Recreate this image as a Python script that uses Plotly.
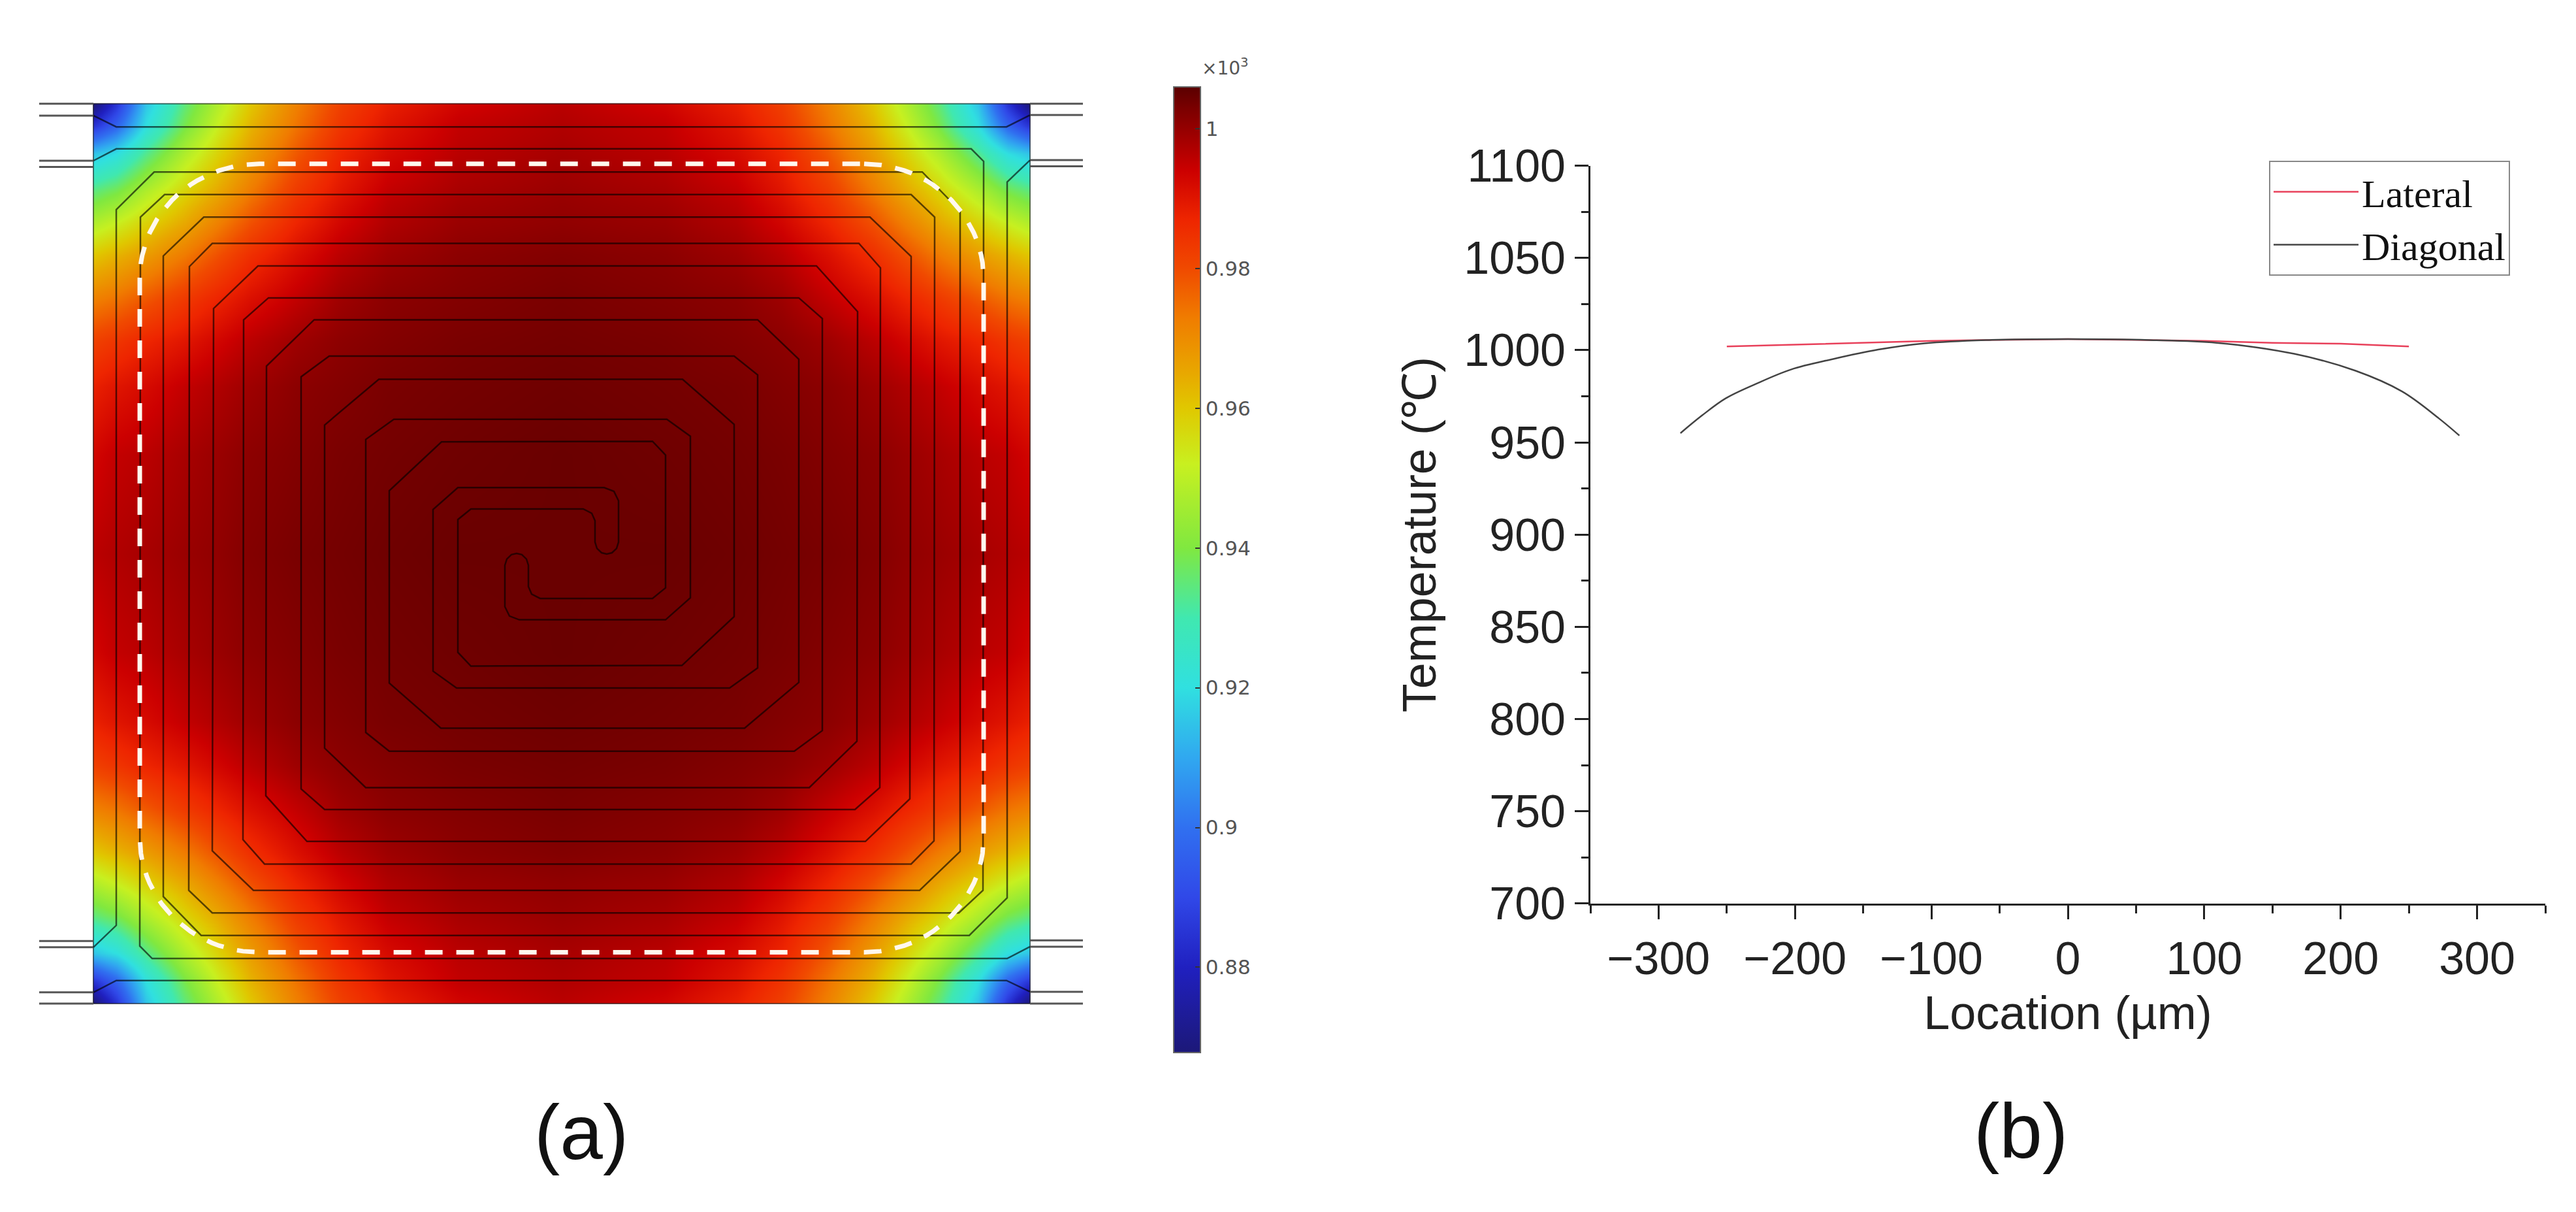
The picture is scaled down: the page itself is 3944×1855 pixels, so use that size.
import numpy as np
import plotly.graph_objects as go

# ---------- panel (b) data ----------
lateral_x = [-250, -200, -150, -100, -50, 0, 50, 100, 150, 200, 250]
lateral_t = [1002, 1003, 1004, 1005, 1005.6, 1006, 1005.6, 1005, 1004, 1003.5, 1002]
diagonal_x = [-284, -268, -251, -229, -203, -172, -139, -105, -60, 0, 60, 109, 166, 211, 245, 272, 287]
diagonal_t = [955, 964.7, 973.8, 981.6, 989.5, 995.2, 1000.3, 1003.7, 1005.5, 1006, 1005.5, 1004, 998, 988.8, 977.6, 963, 953.7]
x_ticks = [-300, -200, -100, 0, 100, 200, 300]
y_ticks = [700, 750, 800, 850, 900, 950, 1000, 1050, 1100]

# ---------- panel (a) data: temperature (x10^3 degC) on one quarter of the plate ----------
edge_offset = [0, 35, 80, 140, 190, 240, 310, 380, 450, 560, 717]
quarter_t = [
    [.868, .885, .915, .935, .948, .960, .972, .982, .988, .993, .996],
    [.885, .897, .920, .939, .952, .963, .974, .984, .990, .995, .997],
    [.915, .920, .933, .948, .958, .967, .978, .987, .992, .996, .998],
    [.935, .939, .948, .958, .965, .973, .983, .990, .995, .998, .9995],
    [.948, .952, .958, .965, .972, .979, .987, .993, .997, .9995, 1.0005],
    [.960, .963, .967, .973, .979, .985, .991, .996, .999, 1.001, 1.002],
    [.972, .974, .978, .983, .987, .991, .995, .999, 1.001, 1.002, 1.003],
    [.982, .984, .987, .990, .993, .996, .999, 1.001, 1.002, 1.003, 1.0035],
    [.988, .990, .992, .995, .997, .999, 1.001, 1.002, 1.003, 1.0035, 1.004],
    [.993, .995, .996, .998, .9995, 1.001, 1.002, 1.003, 1.0035, 1.004, 1.0045],
    [.996, .997, .998, .9995, 1.0005, 1.002, 1.003, 1.0035, 1.004, 1.0045, 1.0045],
]
cbar_ticks = [0.88, 0.90, 0.92, 0.94, 0.96, 0.98, 1.0]
cbar_labels = ["0.88", "0.9", "0.92", "0.94", "0.96", "0.98", "1"]
t_min, t_max = 0.8678, 1.006
cmap_t = [0.8678, 0.88, 0.89, 0.90, 0.91, 0.92, 0.93, 0.94, 0.952, 0.96, 0.965, 0.973, 0.98, 0.987, 0.994, 1.0, 1.003, 1.006]
cmap_c = ["#1c1878", "#2020c0", "#3048e8", "#3070f0", "#30a8f0", "#30e0e0", "#40e8b0", "#80e840",
          "#c8f020", "#e0c800", "#e8a800", "#f07c00", "#f04a00", "#ee2500", "#cc0000", "#950000", "#7a0000", "#5a0000"]

# coil wire centre-line on the plate; second wire is the same one turned half a turn
wire_x = [143, 178, 1487, 1506, 1505, 1468, 325, 289, 290, 325, 1315, 1348, 1347, 1309, 497, 461, 461, 504,
          1124, 1160, 1160, 1117, 699, 663, 663, 701, 925, 940, 947, 947, 944, 937, 929, 921, 914, 911, 911, 906, 893,
          721, 701, 701, 721, 1044, 1124, 1124, 1045, 580, 497, 497, 560, 1239, 1312, 1313, 1250, 395, 327, 325, 388,
          1408, 1470, 1470, 1412, 236, 178, 178, 143]
wire_y = [217, 198, 198, 218, 1382, 1418, 1418, 1382, 386, 349, 349, 388, 1218, 1253, 1253, 1220, 562, 529,
          529, 559, 1027, 1059, 1059, 1032, 774, 739, 739, 745, 760, 826, 836, 843, 845, 843, 836, 826, 792, 780, 773,
          773, 790, 1002, 1024, 1023, 945, 638, 566, 566, 639, 1155, 1218, 1218, 1144, 458, 385, 385, 453, 1319, 1382,
          1382, 1320, 297, 235, 235, 295, 1438, 1473]
top_wire_x = [143, 178, 1541, 1577]
top_wire_y = [145, 163, 163, 144]
bottom_wire_x = [143, 178, 1541, 1577]
bottom_wire_y = [1545, 1526, 1526, 1544]
lead_left_y = [126, 145, 217, 227, 1463, 1473, 1545, 1563]
lead_right_y = [126, 144, 216, 226, 1462, 1472, 1544, 1563]
plate_left, plate_right, plate_top, plate_bottom = 143, 1577, 126, 1563
hot_left, hot_right, hot_top, hot_bottom, hot_radius = 214, 1506, 222, 1481, 183

# ---------- build field ----------
q = np.array(quarter_t)
idx = [0] + list(range(len(edge_offset)))
q2 = q[np.ix_(idx, idx)]
d = np.array([0, 1] + edge_offset[1:], dtype=float)
half = (plate_right - plate_left) / 2
half_y = (plate_bottom - plate_top) / 2
dx = np.concatenate([d, 2 * half - d[-2::-1]])
dy = np.concatenate([d * half_y / half, 2 * half_y - (d * half_y / half)[-2::-1]])
full = np.vstack([q2, q2[-2::-1]])
full = np.hstack([full, full[:, -2::-1]])

colorscale = [[(t - t_min) / (t_max - t_min), c] for t, c in zip(cmap_t, cmap_c)]

fig = go.Figure()
fig.add_trace(go.Heatmap(
    x=plate_left + dx, y=plate_top + dy, z=full, zsmooth="best", zmin=t_min, zmax=t_max,
    colorscale=colorscale, hoverinfo="skip", xaxis="x", yaxis="y", showlegend=False,
    colorbar=dict(
        thicknessmode="pixels", thickness=41, lenmode="pixels", len=1478,
        x=1797 / 3944, xanchor="left", y=1 - 99 / 1855, yanchor="top", xpad=0, ypad=0,
        outlinewidth=2, outlinecolor="#666", tickmode="array", tickvals=cbar_ticks, ticktext=cbar_labels,
        ticks="inside", ticklen=9, tickwidth=2, tickcolor="#333",
        tickfont=dict(family="DejaVu Sans", size=31, color="#555"),
    ),
))


def line(x, y, color, width, dash=None):
    fig.add_trace(go.Scatter(x=x, y=y, mode="lines", line=dict(color=color, width=width, dash=dash),
                             hoverinfo="skip", showlegend=False, xaxis="x", yaxis="y"))


# plate outline
line([plate_left, plate_right, plate_right, plate_left, plate_left],
     [plate_top, plate_top, plate_bottom, plate_bottom, plate_top], "rgba(30,30,30,0.6)", 2)
# contact leads
lx, ly = [], []
for y in lead_left_y:
    lx += [60, plate_left, None]
    ly += [y, y, None]
for y in lead_right_y:
    lx += [plate_right, 1658, None]
    ly += [y, y, None]
line(lx, ly, "#555555", 3)
# coil
wx, wy = np.array(wire_x, float), np.array(wire_y, float)
wire_col = "rgba(0,0,0,0.62)"
line(wx, wy, wire_col, 2.5)
line(plate_left + plate_right - wx, plate_top + plate_bottom - wy, wire_col, 2.5)
line(top_wire_x, top_wire_y, wire_col, 2.5)
line(bottom_wire_x, bottom_wire_y, wire_col, 2.5)

# dashed hot-zone outline
ang = np.linspace(0, np.pi / 2, 24)
r = hot_radius
hx = np.concatenate([hot_right - r + r * np.sin(ang), hot_right - r + r * np.cos(ang),
                     hot_left + r - r * np.sin(ang), hot_left + r - r * np.cos(ang)])
hy = np.concatenate([hot_top + r - r * np.cos(ang), hot_bottom - r + r * np.sin(ang),
                     hot_bottom - r + r * np.cos(ang), hot_top + r - r * np.sin(ang)])
hx = np.append(hx, hx[0])
hy = np.append(hy, hy[0])
line(hx, hy, "#fff8ee", 7, "27px,21px")

# panel (b)
fig.add_trace(go.Scatter(x=lateral_x, y=lateral_t, mode="lines", name="Lateral",
                         line=dict(color="#e8405a", width=2.5), xaxis="x2", yaxis="y2"))
fig.add_trace(go.Scatter(x=diagonal_x, y=diagonal_t, mode="lines", name="Diagonal", line_shape="spline",
                         line=dict(color="#444444", width=2.5), xaxis="x2", yaxis="y2"))

W, H = 3944, 1855
sans = "Liberation Sans"
axis_common = dict(showline=True, linecolor="#222", linewidth=3, ticks="outside", ticklen=21, tickwidth=3,
                   tickcolor="#222", showgrid=False, zeroline=False,
                   tickfont=dict(family=sans, size=70, color="#222"))
fig.update_layout(
    width=W, height=H, autosize=False, margin=dict(l=0, r=0, t=0, b=0),
    paper_bgcolor="white", plot_bgcolor="rgba(0,0,0,0)",
    xaxis=dict(domain=[0, 0.5], range=[0, W / 2], visible=False),
    yaxis=dict(domain=[0, 1], range=[H, 0], visible=False),
    xaxis2=dict(domain=[2435 / W, 3897 / W], range=[-350, 350], anchor="y2", tickmode="array", tickvals=x_ticks,
                minor=dict(dtick=50, tick0=0, ticks="outside", ticklen=12, tickwidth=3, tickcolor="#222"),
                title=dict(text="Location (µm)", font=dict(family=sans, size=72, color="#222"), standoff=20),
                **axis_common),
    yaxis2=dict(domain=[1 - 1403 / H, 1 - 225 / H], range=[700, 1100], anchor="x2", tickmode="array", tickvals=y_ticks,
                minor=dict(dtick=25, tick0=700, ticks="outside", ticklen=11, tickwidth=3, tickcolor="#222"),
                title=dict(text="Temperature (℃)", font=dict(family=sans, size=72, color="#222"), standoff=20),
                **axis_common),
    legend=dict(x=3474 / W, xanchor="left", y=1 - 217 / H, yanchor="top", bordercolor="#888", borderwidth=2,
                bgcolor="white", font=dict(family="Liberation Serif", size=60, color="#111"),
                itemwidth=130, tracegroupgap=0),
    annotations=[
        dict(text="(a)", x=890 / W, y=1 - 1768 / H, xref="paper", yref="paper", showarrow=False,
             font=dict(family=sans, size=118, color="#111"), xanchor="center", yanchor="middle"),
        dict(text="(b)", x=3094 / W, y=1 - 1766 / H, xref="paper", yref="paper", showarrow=False,
             font=dict(family=sans, size=118, color="#111"), xanchor="center", yanchor="middle"),
        dict(text="×10<sup>3</sup>", x=1838 / W, y=1 - 67 / H, xref="paper", yref="paper", showarrow=False,
             font=dict(family="DejaVu Sans", size=28, color="#555"), xanchor="left", yanchor="middle"),
    ],
)
fig.write_html("out.html", config=dict(displayModeBar=False), post_script="document.body.style.margin='0';")
